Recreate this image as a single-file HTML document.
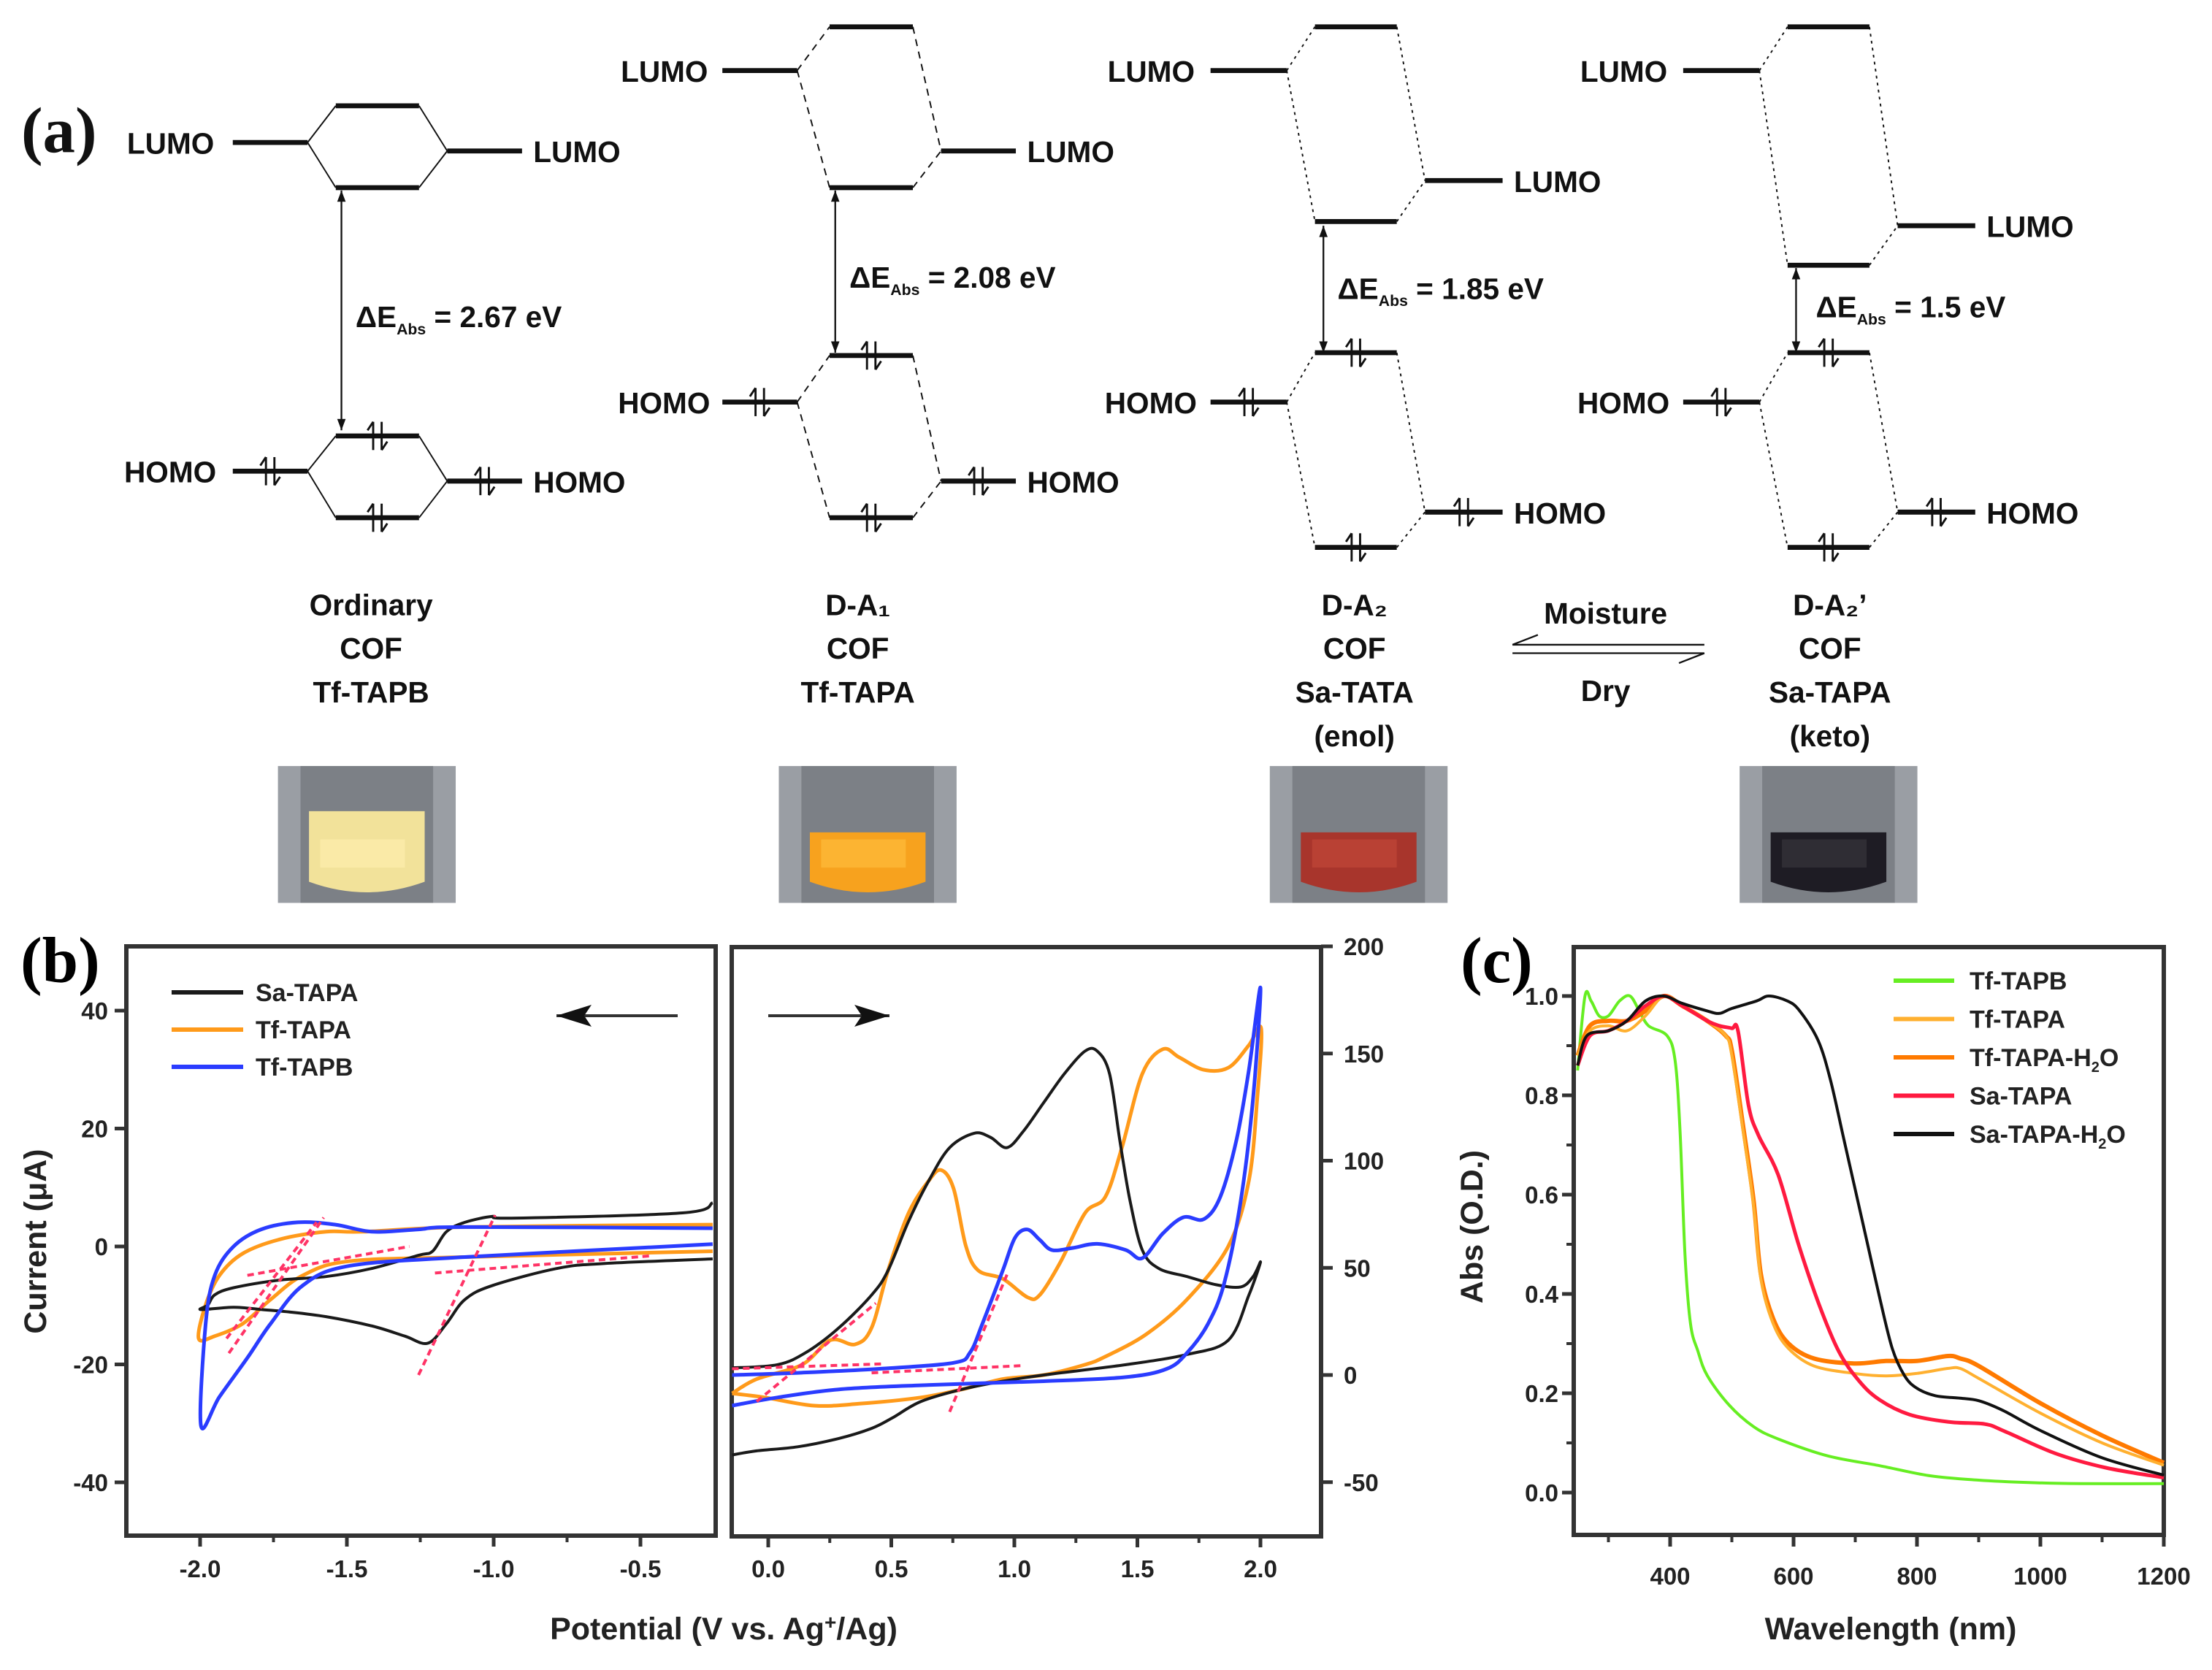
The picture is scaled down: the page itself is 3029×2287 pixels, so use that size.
<!DOCTYPE html>
<html><head><meta charset="utf-8"><style>
html,body{margin:0;padding:0;background:#fff}
svg{display:block;font-family:"Liberation Sans",sans-serif;font-weight:bold}
</style></head><body>
<svg id="fig" width="3029" height="2287" viewBox="0 0 3029 2287" xmlns="http://www.w3.org/2000/svg">
<rect width="3029" height="2287" fill="#fff"/>
<g id="pa" transform="scale(1.932)" font-size="21" fill="#111">
<text x="15" y="108" font-family="Liberation Serif,serif" font-size="46">(a)</text>
</g>
<text x="28" y="1345" font-family="Liberation Serif,serif" font-size="89">(b)</text>
<text x="2000" y="1345" font-family="Liberation Serif,serif" font-size="89">(c)</text>
<g id="pb"></g>
<g id="pc"></g>
</svg>
<script>
// ===== Panel b data (left: reduction sweep) =====
const bLeftBlackV=[-0.254,-0.357,-0.94,-1.003,-1.098,-1.161,-1.208,-1.256,-1.413,-1.571,-1.729,-1.886,-1.95,-1.973,-1.997,-1.886,-1.79,-1.697,-1.571,-1.413,-1.303,-1.224,-1.161,-1.098,-1.003,-0.782,-0.625,-0.254];
const bLeftBlackI=[7.4,5.7,4.8,5.1,4.1,2.5,-0.8,-1.5,-3.7,-5.1,-5.7,-7.0,-8.2,-9.9,-10.7,-10.3,-10.7,-11.1,-11.9,-13.5,-15.2,-16.4,-13.1,-9.0,-6.6,-3.7,-2.9,-2.1];
const bLeftOrangeV=[-0.254,-1.098,-1.445,-1.571,-1.729,-1.855,-1.934,-1.981,-2.005,-1.95,-1.855,-1.76,-1.65,-1.492,-1.098,-0.254];
const bLeftOrangeI=[3.7,3.3,2.5,2.5,1.2,-1.2,-4.9,-9.9,-15.6,-15.2,-13.1,-9.0,-4.9,-2.5,-1.8,-0.8];
const bLeftBlueV=[-0.254,-1.098,-1.256,-1.413,-1.539,-1.666,-1.792,-1.886,-1.95,-1.981,-1.997,-1.934,-1.839,-1.76,-1.65,-1.492,-1.098,-0.254];
const bLeftBlueI=[3.1,3.3,2.9,2.5,3.7,4.1,2.9,0,-4.9,-13.1,-30.4,-25.5,-18.9,-13.1,-6.6,-3.3,-1.8,0.4];
const bLeftTangents=[[-1.902,-18.1,-1.579,4.9],[-1.91,-15.6,-1.603,4.1],[-1.839,-4.9,-1.287,0],[-1.256,-21.8,-0.995,5.3],[-1.2,-4.5,-0.467,-1.6]];
const bLeftXTicks=[-2.0,-1.5,-1.0,-0.5];
const bLeftXLabels=["-2.0","-1.5","-1.0","-0.5"];
const bLeftYTicks=[40,20,0,-20,-40];
const bLeftYLabels=["40","20","0","-20","-40"];
// ===== Panel b data (right: oxidation sweep) =====
const bRightBlackV=[-0.147,0.037,0.153,0.287,0.42,0.487,0.57,0.653,0.737,0.837,0.903,0.97,1.037,1.12,1.203,1.287,1.337,1.387,1.428,1.47,1.52,1.587,1.703,1.82,1.92,1.97,2.0,1.953,1.87,1.703,1.453,1.12,0.953,0.787,0.62,0.503,0.42,0.287,0.12,-0.047,-0.147];
const bRightBlackI=[3.3,4.8,10.5,22.0,37.3,48.8,71.7,90.8,106.1,112.8,110.9,106.1,113.8,127.2,140.5,151.1,151.1,140.5,109.9,81.3,58.3,49.7,45.9,42.1,41.1,45.9,52.6,37.3,16.3,9.6,4.8,0,-2.9,-6.7,-12.4,-20.1,-24.9,-29.6,-33.5,-35.4,-37.3];
const bRightOrangeV=[-0.147,-0.013,0.187,0.37,0.62,0.787,0.953,1.12,1.287,1.37,1.537,1.703,1.87,1.953,1.987,2.003,1.953,1.87,1.77,1.67,1.603,1.52,1.437,1.37,1.287,1.187,1.103,1.053,0.953,0.853,0.803,0.753,0.703,0.653,0.57,0.487,0.42,0.353,0.253,0.137,-0.047,-0.147];
const bRightOrangeI=[-8.6,-10.5,-14.3,-13.4,-10.5,-6.7,-1.9,0,4.8,8.6,19.1,35.4,60.2,90.8,129.1,161.6,153.9,143.4,142.4,148.2,152.0,140.5,106.1,83.2,75.5,52.6,37.3,36.3,44.9,48.8,60.2,87.0,95.6,90.8,75.5,48.8,22.0,14.3,16.3,4.8,-1.9,-8.6];
const bRightBlueV=[-0.147,0.037,0.287,0.62,1.12,1.453,1.62,1.703,1.787,1.853,1.92,1.97,2.0,1.953,1.903,1.837,1.77,1.687,1.603,1.52,1.453,1.337,1.237,1.153,1.103,1.053,1.003,0.953,0.87,0.82,0.753,0.453,0.12,-0.147];
const bRightBlueI=[-14.3,-10.5,-6.7,-4.8,-2.9,-1.0,2.9,10.5,23.9,43.0,81.3,129.1,180.7,142.4,109.9,83.2,72.7,73.6,66.0,54.5,58.3,61.2,59.3,58.3,63.1,67.9,64.1,48.8,23.9,10.5,5.7,2.9,1.0,0];
const bRightTangents=[[-0.147,2.9,0.47,5.2],[0.42,1.0,1.037,4.4],[-0.047,-12.4,0.437,33.5],[0.737,-17.2,0.97,46.8]];
const bRightXTicks=[0.0,0.5,1.0,1.5,2.0];
const bRightXLabels=["0.0","0.5","1.0","1.5","2.0"];
const bRightYTicks=[200,150,100,50,0,-50];
const bRightYLabels=["200","150","100","50","0","-50"];
const bLegendNames=["Sa-TAPA","Tf-TAPA","Tf-TAPB"];
const bColors=["#1a1a1a","#ff9a1a","#2a3cff"];
// ===== Panel c data =====
const cGreenL=[250,262,272,285,300,318,335,350,365,395,408,416,424,433,445,460,495,535,575,655,740,820,900,985,1065,1200];
const cGreenA=[0.85,1.0,0.99,0.96,0.96,0.99,1.0,0.97,0.94,0.92,0.87,0.73,0.48,0.34,0.285,0.236,0.177,0.133,0.108,0.074,0.054,0.034,0.025,0.02,0.018,0.018];
const cTapaL=[250,270,300,330,360,390,420,460,490,500,518,535,547,567,592,633,698,750,800,850,870,900,1000,1100,1200];
const cTapaA=[0.88,0.93,0.94,0.93,0.96,1.0,0.98,0.95,0.92,0.88,0.73,0.58,0.43,0.34,0.29,0.255,0.24,0.235,0.24,0.25,0.25,0.23,0.16,0.1,0.055];
const cTapaWL=[250,270,300,330,360,390,420,460,490,500,518,535,547,567,592,633,698,750,800,850,870,900,1000,1100,1200];
const cTapaWA=[0.88,0.94,0.95,0.95,0.97,1.0,0.98,0.95,0.92,0.89,0.74,0.59,0.44,0.35,0.3,0.27,0.26,0.265,0.265,0.275,0.27,0.255,0.18,0.115,0.06];
const cSaL=[250,270,300,330,360,390,420,460,480,500,510,527,543,575,608,641,673,706,739,788,853,910,943,1024,1106,1200];
const cSaA=[0.86,0.92,0.93,0.95,0.98,1.0,0.98,0.95,0.94,0.935,0.93,0.78,0.72,0.64,0.5,0.38,0.285,0.225,0.187,0.157,0.142,0.138,0.123,0.079,0.05,0.03];
const cSaWL=[250,265,300,330,360,390,420,460,480,500,540,560,590,610,640,660,680,700,720,740,760,780,800,830,870,900,940,1000,1100,1200];
const cSaWA=[0.86,0.92,0.93,0.95,0.99,1.0,0.985,0.97,0.965,0.975,0.99,1.0,0.99,0.97,0.91,0.83,0.72,0.61,0.5,0.39,0.29,0.235,0.21,0.195,0.19,0.185,0.165,0.125,0.07,0.035];
const cNames=["Tf-TAPB","Tf-TAPA","Tf-TAPA-H","Sa-TAPA","Sa-TAPA-H"];
const cColors=["#66ee22","#ffb030","#ff7a00","#ff1a40","#111111"];
const cXTicks=[400,600,800,1000,1200];
const cXLabels=["400","600","800","1000","1200"];
const cYTicks=[0.0,0.2,0.4,0.6,0.8,1.0];
const cYLabels=["0.0","0.2","0.4","0.6","0.8","1.0"];

const NS="http://www.w3.org/2000/svg";
function mk(parent,tag,attrs,txt){const e=document.createElementNS(NS,tag);for(const k in attrs)e.setAttribute(k,attrs[k]);if(txt!==undefined)e.textContent=txt;parent.appendChild(e);return e;}
function pathD(xs,ys,fx,fy){
 const P=xs.map((v,i)=>[fx(v),fy(ys[i])]);
 let d="M"+P[0][0].toFixed(1)+" "+P[0][1].toFixed(1);
 for(let i=0;i<P.length-1;i++){
  const p0=P[Math.max(0,i-1)],p1=P[i],p2=P[i+1],p3=P[Math.min(P.length-1,i+2)];
  const k=1/6;
  const c1=[p1[0]+(p2[0]-p0[0])*k,p1[1]+(p2[1]-p0[1])*k];
  const c2=[p2[0]-(p3[0]-p1[0])*k,p2[1]-(p3[1]-p1[1])*k];
  d+=` C${c1[0].toFixed(1)} ${c1[1].toFixed(1)} ${c2[0].toFixed(1)} ${c2[1].toFixed(1)} ${p2[0].toFixed(1)} ${p2[1].toFixed(1)}`;
 }
 return d;}

// ===== Panel b =====
const pb=document.getElementById('pb');
const lx=v=>274+(v+2)*402, ly=v=>1707-v*8.075;
const rx=v=>1052+v*337, ry=v=>1883-v*2.935;
function frame(g,x1,y1,x2,y2,name){const r=mk(g,'rect',{x:x1,y:y1,width:x2-x1,height:y2-y1,fill:'none',stroke:'#333',"stroke-width":6});

}
frame(pb,173,1296,980,2103,'left-plot-frame');
frame(pb,1002,1297,1809,2104,'right-plot-frame');
function series(g,xs,ys,fx,fy,col,w,name){const p=mk(g,'path',{d:pathD(xs,ys,fx,fy),fill:'none',stroke:col,"stroke-width":w,"stroke-linejoin":"round"});

}
series(pb,bLeftOrangeV,bLeftOrangeI,lx,ly,bColors[1],5,'left-tf-tapa-curve');
series(pb,bLeftBlackV,bLeftBlackI,lx,ly,bColors[0],4,'left-sa-tapa-curve');
series(pb,bLeftBlueV,bLeftBlueI,lx,ly,bColors[2],5,'left-tf-tapb-curve');
series(pb,bRightOrangeV,bRightOrangeI,rx,ry,bColors[1],5,'right-tf-tapa-curve');
series(pb,bRightBlackV,bRightBlackI,rx,ry,bColors[0],4,'right-sa-tapa-curve');
series(pb,bRightBlueV,bRightBlueI,rx,ry,bColors[2],5,'right-tf-tapb-curve');
bLeftTangents.forEach(t=>{const l=mk(pb,'line',{x1:lx(t[0]),y1:ly(t[1]),x2:lx(t[2]),y2:ly(t[3]),stroke:'#ff3366',"stroke-width":4,"stroke-dasharray":"9 6"});

});
bRightTangents.forEach(t=>{const l=mk(pb,'line',{x1:rx(t[0]),y1:ry(t[1]),x2:rx(t[2]),y2:ry(t[3]),stroke:'#ff3366',"stroke-width":4,"stroke-dasharray":"9 6"});

});
bLeftXTicks.forEach((v,i)=>{mk(pb,'line',{x1:lx(v),y1:2103,x2:lx(v),y2:2118,stroke:'#333',"stroke-width":5});
const t=mk(pb,'text',{x:lx(v),y:2160,"text-anchor":"middle","font-size":33,fill:'#222'},bLeftXLabels[i]);

});
[-1.75,-1.25,-0.75].forEach(v=>mk(pb,'line',{x1:lx(v),y1:2103,x2:lx(v),y2:2112,stroke:'#333',"stroke-width":4}));
bLeftYTicks.forEach((v,i)=>{mk(pb,'line',{x1:157,y1:ly(v),x2:173,y2:ly(v),stroke:'#333',"stroke-width":5});
const t=mk(pb,'text',{x:148,y:ly(v)+12,"text-anchor":"end","font-size":33,fill:'#222'},bLeftYLabels[i]);

});
bRightXTicks.forEach((v,i)=>{mk(pb,'line',{x1:rx(v),y1:2104,x2:rx(v),y2:2119,stroke:'#333',"stroke-width":5});
const t=mk(pb,'text',{x:rx(v),y:2160,"text-anchor":"middle","font-size":33,fill:'#222'},bRightXLabels[i]);

});
[0.25,0.75,1.25,1.75].forEach(v=>mk(pb,'line',{x1:rx(v),y1:2104,x2:rx(v),y2:2113,stroke:'#333',"stroke-width":4}));
bRightYTicks.forEach((v,i)=>{mk(pb,'line',{x1:1809,y1:ry(v),x2:1825,y2:ry(v),stroke:'#333',"stroke-width":5});
const t=mk(pb,'text',{x:1840,y:ry(v)+12,"text-anchor":"start","font-size":33,fill:'#222'},bRightYLabels[i]);

});
let tt=mk(pb,'text',{x:991,y:2245,"text-anchor":"middle","font-size":43,fill:'#222'});


tt.innerHTML='Potential (V vs. Ag<tspan dy="-14" font-size="28">+</tspan><tspan dy="14">/Ag)</tspan>';
tt=mk(pb,'text',{x:0,y:0,"text-anchor":"middle","font-size":43,fill:'#222',transform:'translate(63,1700) rotate(-90)'},'Current (μA)');


bLegendNames.forEach((n,i)=>{const y=1359+i*51;
const l=mk(pb,'line',{x1:235,y1:y,x2:333,y2:y,stroke:bColors[i],"stroke-width":6});


const t=mk(pb,'text',{x:350,y:y+12,"font-size":34,fill:'#222'},n);

});
function arrow(g,x1,x2,y,name){const l=mk(g,'line',{x1:x1,y1:y,x2:x2,y2:y,stroke:'#333',"stroke-width":4});


const d=x2>x1?1:-1;mk(g,'path',{d:`M${x2} ${y} L${x2-d*48} ${y-15} L${x2-d*38} ${y} L${x2-d*48} ${y+15}Z`,fill:'#111'});}
arrow(pb,928,762,1391,'scan-direction-arrow-left');
arrow(pb,1052,1218,1391,'scan-direction-arrow-right');

// ===== Panel c =====
const pc=document.getElementById('pc');
const cx=v=>2963-(1200-v)*0.845, cy=v=>2044-v*680;
frame(pc,2155,1297,2963,2102,'abs-plot-frame');
series(pc,cGreenL,cGreenA,cx,cy,cColors[0],4,'tf-tapb-spectrum');
series(pc,cTapaWL,cTapaWA,cx,cy,cColors[2],6,'tf-tapa-h2o-spectrum');
series(pc,cTapaL,cTapaA,cx,cy,cColors[1],4,'tf-tapa-spectrum');
series(pc,cSaL,cSaA,cx,cy,cColors[3],5,'sa-tapa-spectrum');
series(pc,cSaWL,cSaWA,cx,cy,cColors[4],4,'sa-tapa-h2o-spectrum');
cXTicks.forEach((v,i)=>{mk(pc,'line',{x1:cx(v),y1:2102,x2:cx(v),y2:2118,stroke:'#333',"stroke-width":5});
const t=mk(pc,'text',{x:cx(v),y:2170,"text-anchor":"middle","font-size":33,fill:'#222'},cXLabels[i]);

});
[300,500,700,900,1100].forEach(v=>mk(pc,'line',{x1:cx(v),y1:2102,x2:cx(v),y2:2112,stroke:'#333',"stroke-width":4}));
cYTicks.forEach((v,i)=>{mk(pc,'line',{x1:2139,y1:cy(v),x2:2155,y2:cy(v),stroke:'#333',"stroke-width":5});
const t=mk(pc,'text',{x:2134,y:cy(v)+12,"text-anchor":"end","font-size":33,fill:'#222'},cYLabels[i]);

});
[0.1,0.3,0.5,0.7,0.9].forEach(v=>mk(pc,'line',{x1:2145,y1:cy(v),x2:2155,y2:cy(v),stroke:'#333',"stroke-width":4}));
tt=mk(pc,'text',{x:2589,y:2245,"text-anchor":"middle","font-size":43,fill:'#222'},'Wavelength (nm)');


tt=mk(pc,'text',{x:0,y:0,"text-anchor":"middle","font-size":43,fill:'#222',transform:'translate(2030,1680) rotate(-90)'},'Abs (O.D.)');


cNames.forEach((n,i)=>{const y=1343+i*52.5;
const l=mk(pc,'line',{x1:2593,y1:y,x2:2676,y2:y,stroke:cColors[i],"stroke-width":6});


const t=mk(pc,'text',{x:2697,y:y+12,"font-size":34,fill:'#222'},n);


if(n.endsWith('-H')){mk(t,'tspan',{dy:8,"font-size":20},'2');mk(t,'tspan',{dy:-8},'O');}});

// ===== Panel a =====
const pa=document.getElementById('pa');
function L(x1,y1,x2,y2,w,dash){const a={x1:x1,y1:y1,x2:x2,y2:y2,stroke:'#111',"stroke-width":w};if(dash)a["stroke-dasharray"]=dash;return mk(pa,'line',a);}
function T(x,y,s,anchor,name){const t=mk(pa,'text',{x:x,y:y,"text-anchor":anchor||'start'},s);

return t;}
function elec(x,y){L(x-3,y-10,x-3,y+10,1.5);L(x-3,y-10,x-7,y-4,1.5);L(x+3,y-10,x+3,y+10,1.5);L(x+3,y+10,x+7,y+4,1.5);}
const cols=[
 {lt:90,l1:165,l2:218,ly:101,m1:238,m2:297,mt:75,mb:133,r1:317,r2:370,ry:107,ax:242,a1:135,a2:305,dx:252,dy:232,de:"2.67 eV",hl:334,ht:309,hb:367,hr:341,dash:null},
 {lt:440,l1:512,l2:565,ly:50,m1:588,m2:647,mt:19,mb:133,r1:667,r2:720,ry:107,ax:592,a1:135,a2:250,dx:602,dy:204,de:"2.08 eV",hl:285,ht:252,hb:367,hr:341,dash:"5 4"},
 {lt:785,l1:858,l2:912,ly:50,m1:932,m2:990,mt:19,mb:157,r1:1010,r2:1065,ry:128,ax:938,a1:160,a2:250,dx:948,dy:212,de:"1.85 eV",hl:285,ht:250,hb:388,hr:363,dash:"2 3"},
 {lt:1120,l1:1193,l2:1247,ly:50,m1:1267,m2:1325,mt:19,mb:188,r1:1345,r2:1400,ry:160,ax:1273,a1:190,a2:250,dx:1287,dy:225,de:"1.5 eV",hl:285,ht:250,hb:388,hr:363,dash:"2 3"}];
cols.forEach(c=>{
 T(c.lt,c.ly+8,'LUMO');L(c.l1,c.ly,c.l2,c.ly,3.5);L(c.m1,c.mt,c.m2,c.mt,3.5);L(c.m1,c.mb,c.m2,c.mb,3.5);L(c.r1,c.ry,c.r2,c.ry,3.5);T(c.r2+8,c.ry+8,'LUMO');
 L(c.l2,c.ly,c.m1,c.mt,1,c.dash);L(c.l2,c.ly,c.m1,c.mb,1,c.dash);L(c.m2,c.mt,c.r1,c.ry,1,c.dash);L(c.m2,c.mb,c.r1,c.ry,1,c.dash);
 T(c.lt-2,c.hl+8,'HOMO');L(c.l1,c.hl,c.l2,c.hl,3.5);L(c.m1,c.ht,c.m2,c.ht,3.5);L(c.m1,c.hb,c.m2,c.hb,3.5);L(c.r1,c.hr,c.r2,c.hr,3.5);T(c.r2+8,c.hr+8,'HOMO');
 L(c.l2,c.hl,c.m1,c.ht,1,c.dash);L(c.l2,c.hl,c.m1,c.hb,1,c.dash);L(c.m2,c.ht,c.r1,c.hr,1,c.dash);L(c.m2,c.hb,c.r1,c.hr,1,c.dash);
 elec((c.l1+c.l2)/2,c.hl);elec((c.m1+c.m2)/2,c.ht);elec((c.m1+c.m2)/2,c.hb);elec((c.r1+c.r2)/2,c.hr);
 L(c.ax,c.a1,c.ax,c.a2,1.2);
 mk(pa,'path',{d:`M${c.ax} ${c.a1} l-3 8 h6z M${c.ax} ${c.a2} l-3 -8 h6z`,fill:'#111'});
 const t=T(c.dx,c.dy,'ΔE','start','delta-e-label');mk(t,'tspan',{dy:5,"font-size":11},'Abs');mk(t,'tspan',{dy:-5},' = '+c.de);
});
const labels=[[263,["Ordinary","COF","Tf-TAPB"]],[608,["D-A₁","COF","Tf-TAPA"]],[960,["D-A₂","COF","Sa-TATA","(enol)"]],[1297,["D-A₂’","COF","Sa-TAPA","(keto)"]]];
labels.forEach(l=>l[1].forEach((s,i)=>T(l[0],436+i*31,s,'middle','cof-label')));
T(1138,442,'Moisture','middle','moisture-label');T(1138,497,'Dry','middle','dry-label');
L(1072,457,1208,457,1.2);L(1072,463,1208,463,1.2);L(1072,457,1090,450,1.2);L(1208,463,1190,470,1.2);
const photos=[[197,'#f2e29a','#fff0b0'],[552,'#f7a21e','#ffc040'],[900,'#a8352c','#c44a3a'],[1233,'#1e1c24','#3a3840']];
photos.forEach(p=>{const g=mk(pa,'g',{});


mk(g,'rect',{x:p[0],y:543,width:126,height:97,fill:'#9a9ea4'});
mk(g,'rect',{x:p[0]+16,y:543,width:94,height:97,fill:'#7c8086'});
mk(g,'path',{d:`M${p[0]+22} ${p[1]==='#f2e29a'?575:590} L${p[0]+104} ${p[1]==='#f2e29a'?575:590} L${p[0]+104} 625 Q${p[0]+63} 640 ${p[0]+22} 625Z`,fill:p[1]});
mk(g,'rect',{x:p[0]+30,y:595,width:60,height:20,fill:p[2],opacity:0.6});});
</script>
</body></html>
